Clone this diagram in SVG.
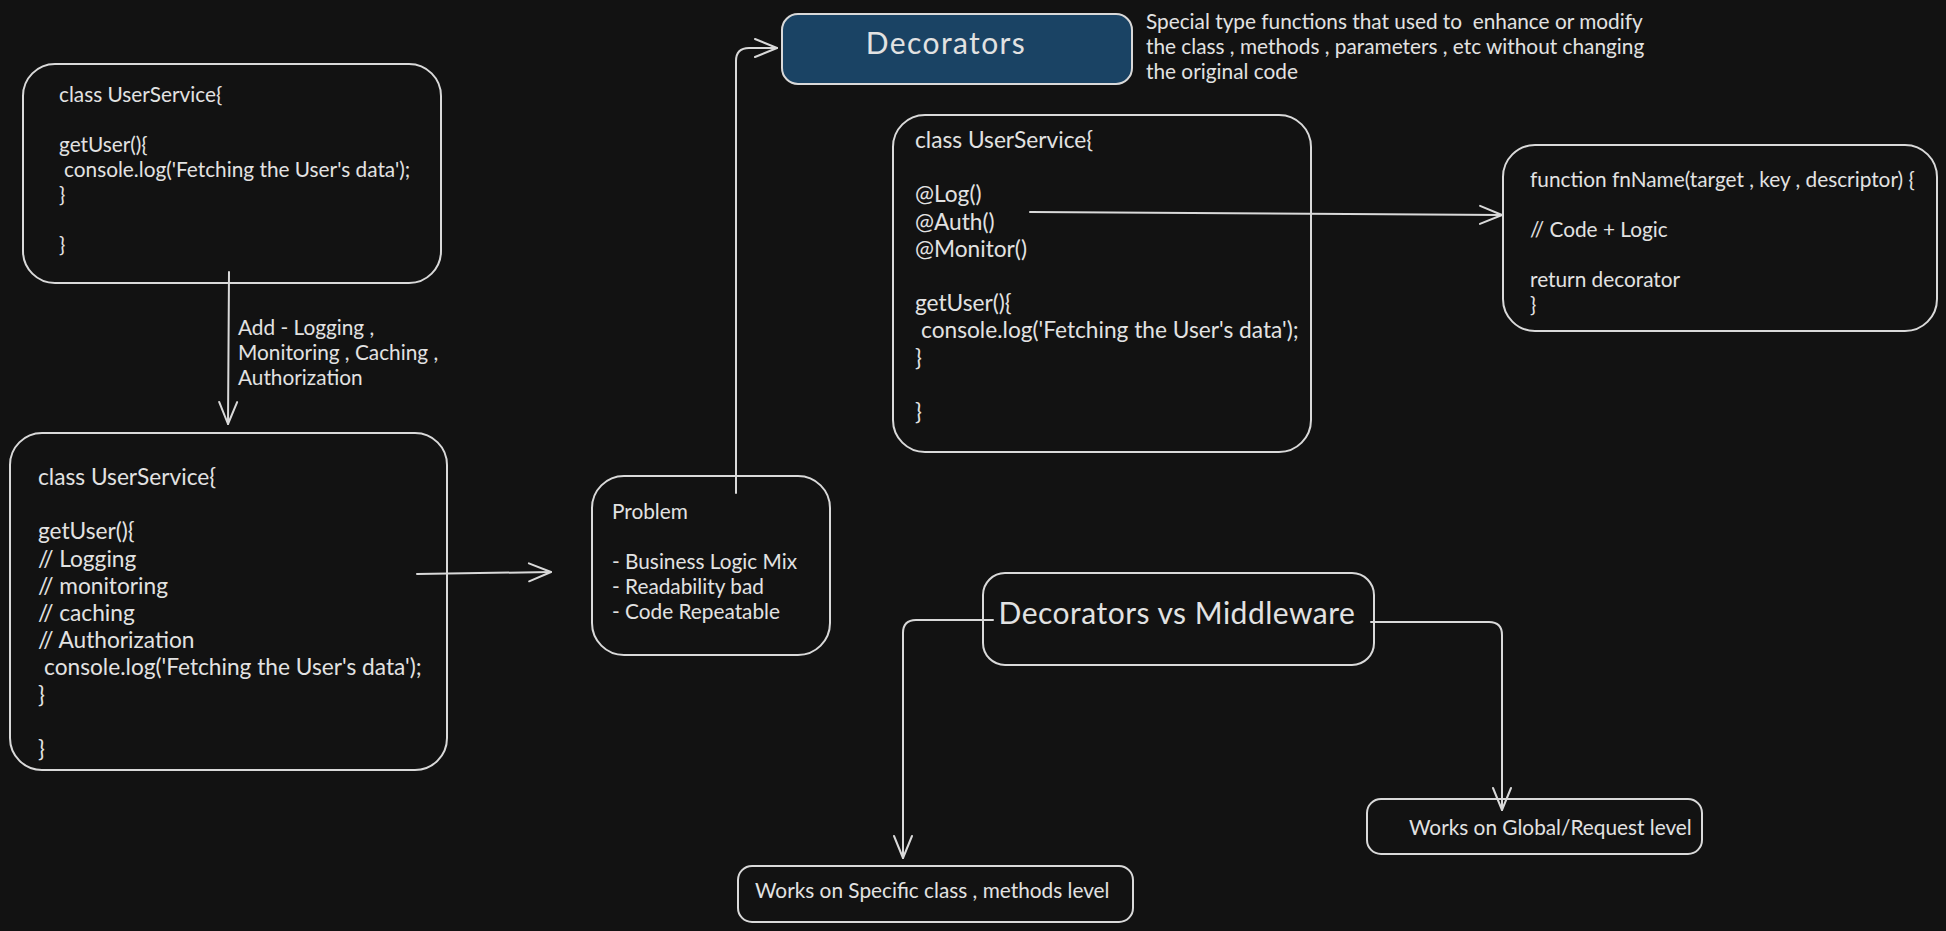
<svg xmlns="http://www.w3.org/2000/svg" width="1946" height="931" viewBox="0 0 1946 931">
<defs>
<style>
.bg{fill:#121212}
.box{fill:#121212;stroke:#d9d9d9;stroke-width:2}
.blue{fill:#1a4364;stroke:#d9d9d9;stroke-width:2}
.t{font-family:Lato,"Noto Sans",sans-serif;fill:#e2e2e2;font-size:20.8px}
.t22{font-family:Lato,"Noto Sans",sans-serif;fill:#e2e2e2;font-size:22.7px}
.big{font-family:Lato,"Noto Sans",sans-serif;fill:#e2e2e2;font-size:30px;text-anchor:middle}
.conn{fill:none;stroke:#d9d9d9;stroke-width:2;stroke-linecap:round;stroke-linejoin:round}
</style>
<marker id="ah" markerUnits="userSpaceOnUse" markerWidth="30" markerHeight="24" refX="24" refY="12" orient="auto" viewBox="0 0 30 24">
<path d="M2 3 L24 12 L2 21" fill="none" stroke="#d9d9d9" stroke-width="2" stroke-linecap="round" stroke-linejoin="round"/>
</marker>
</defs>
<rect class="bg" x="0" y="0" width="1946" height="931"/>

<g id="node-userservice-1">
<rect class="box" x="23" y="64" width="418" height="219" rx="32"/>
<text class="t" x="59" y="102">class UserService{</text>
<text class="t" x="59" y="152">getUser(){</text>
<text class="t" x="64" y="177">console.log('Fetching the User's data');</text>
<text class="t" x="59" y="202">}</text>
<text class="t" x="59" y="252">}</text>
</g>

<g id="label-add">
<text class="t" x="238" y="335">Add - Logging ,</text>
<text class="t" x="238" y="360">Monitoring , Caching ,</text>
<text class="t" x="238" y="385">Authorization</text>
</g>

<g id="node-userservice-2">
<rect class="box" x="10" y="433" width="437" height="337" rx="32"/>
<text class="t22" x="38" y="485">class UserService{</text>
<text class="t22" x="38" y="539.4">getUser(){</text>
<text class="t22" x="38" y="566.6">// Logging</text>
<text class="t22" x="38" y="593.8">// monitoring</text>
<text class="t22" x="38" y="621">// caching</text>
<text class="t22" x="38" y="648.2">// Authorization</text>
<text class="t22" x="44" y="675.4">console.log('Fetching the User's data');</text>
<text class="t22" x="38" y="702.6">}</text>
<text class="t22" x="38" y="757">}</text>
</g>

<g id="node-problem">
<rect class="box" x="592" y="476" width="238" height="179" rx="32"/>
<text class="t" x="612" y="519">Problem</text>
<text class="t" x="612" y="569">- Business Logic Mix</text>
<text class="t" x="612" y="594">- Readability bad</text>
<text class="t" x="612" y="619">- Code Repeatable</text>
</g>

<g id="node-decorators">
<rect class="blue" x="782" y="14" width="350" height="70" rx="16"/>
<text class="big" x="946" y="54" letter-spacing="1.4">Decorators</text>
</g>

<g id="label-description">
<text class="t" x="1146" y="28.7" xml:space="preserve">Special type functions that used to  enhance or modify</text>
<text class="t" x="1146" y="53.7">the class , methods , parameters , etc without changing</text>
<text class="t" x="1146" y="78.7">the original code</text>
</g>

<g id="node-userservice-3">
<rect class="box" x="893" y="115" width="418" height="337" rx="32"/>
<text class="t22" x="915" y="148">class UserService{</text>
<text class="t22" x="915" y="202.4">@Log()</text>
<text class="t22" x="915" y="229.6">@Auth()</text>
<text class="t22" x="915" y="256.8">@Monitor()</text>
<text class="t22" x="915" y="311.2">getUser(){</text>
<text class="t22" x="921" y="338.4">console.log('Fetching the User's data');</text>
<text class="t22" x="915" y="365.6">}</text>
<text class="t22" x="915" y="420">}</text>
</g>

<g id="node-function">
<rect class="box" x="1503" y="145" width="434" height="186" rx="32"/>
<text class="t" x="1530" y="187">function fnName(target , key , descriptor) {</text>
<text class="t" x="1530" y="237">// Code + Logic</text>
<text class="t" x="1530" y="287">return decorator</text>
<text class="t" x="1530" y="312">}</text>
</g>

<g id="node-vs">
<rect class="box" x="983" y="573" width="391" height="92" rx="22"/>
<text class="big" x="1177" y="624" letter-spacing="0.5">Decorators vs Middleware</text>
</g>

<g id="node-specific">
<rect class="box" x="738" y="866" width="395" height="56" rx="14"/>
<text class="t" x="755" y="898">Works on Specific class , methods level</text>
</g>

<g id="node-global">
<rect class="box" x="1367" y="799" width="335" height="55" rx="14"/>
<text class="t" x="1409" y="835">Works on Global/Request level</text>
</g>

<g id="connectors">
<path class="conn" d="M229 272 L228 424" marker-end="url(#ah)"/>
<path class="conn" d="M417 574 L551 572" marker-end="url(#ah)"/>
<path class="conn" d="M736 493 L736 61 Q736 48 749 48 L777 48" marker-end="url(#ah)"/>
<path class="conn" d="M1030 212 L1502 215" marker-end="url(#ah)"/>
<path class="conn" d="M993 620 L916 620 Q903 620 903 633 L903 858" marker-end="url(#ah)"/>
<path class="conn" d="M1371 622 L1489 622 Q1502 622 1502 635 L1502 810" marker-end="url(#ah)"/>
</g>
</svg>
